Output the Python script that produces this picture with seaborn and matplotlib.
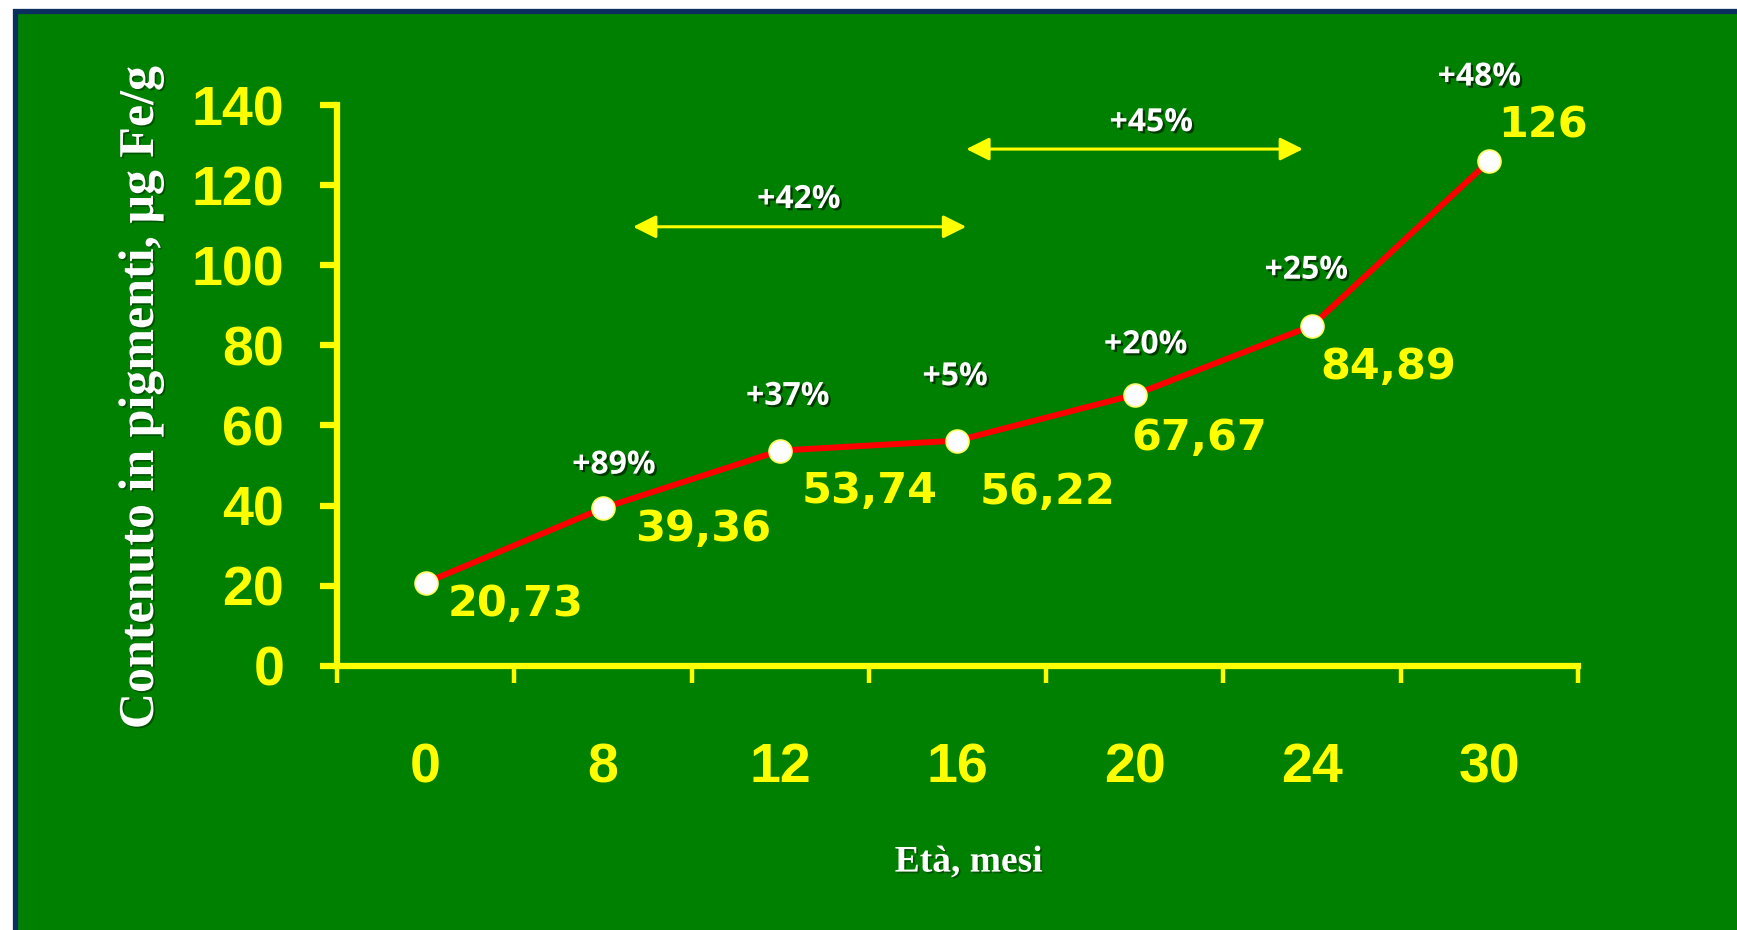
import numpy as np
import pandas as pd
import matplotlib
matplotlib.use("Agg")
import matplotlib.pyplot as plt
import matplotlib.patheffects as pe
from matplotlib.patches import Rectangle
from matplotlib import font_manager
import seaborn as sns

# ---------------- data ----------------
months = ["0", "8", "12", "16", "20", "24", "30"]
values = [20.73, 39.36, 53.74, 56.22, 67.67, 84.89, 126]
value_labels = ["20,73", "39,36", "53,74", "56,22", "67,67", "84,89", "126"]
pct_labels = ["", "+89%", "+37%", "+5%", "+20%", "+25%", "+48%"]
y_ticks = [0, 20, 40, 60, 80, 100, 120, 140]
span_labels = ["+42%", "+45%"]

# ---------------- layout / style (not data) ----------------
# offsets (points) of the value labels relative to their point (left aligned)
val_off = [(16, -15), (23, -15), (15.6, -29), (16, -37), (-2.4, -31), (6.4, -29.5), (6.2, 25.7)]
# offsets (points) of percentage labels (centered)
pct_off = [(0, 0), (8, 31), (5.6, 39), (-1.6, 46), (8, 36), (-4, 40), (-7, 60.5)]
# span arrows in data coordinates: (x_start, x_end, y), label (x, y)
span_arrows = [(1.17, 3.05, 109.6), (3.05, 4.95, 129.0)]
span_text_pos = [(2.106, 116.4), (4.094, 135.6)]

GREEN = "#008000"
NAVY = "#0B3060"
YELLOW = "#FFFF00"
RED = "#FF0000"

sns.set_style("ticks")
names = {f.name for f in font_manager.fontManager.ttflist}
if "Liberation Sans Narrow" in names:
    tick_family, tick_size = "Liberation Sans Narrow", 46
else:
    tick_family, tick_size = "Liberation Sans", 40
plt.rcParams["font.family"] = ["DejaVu Sans"]

df = pd.DataFrame({"pos": np.arange(len(months)), "val": values})

W, H = 1737, 930
fig = plt.figure(figsize=(W / 100, H / 100), dpi=100)
fig.patch.set_facecolor("white")
fig.patches.append(Rectangle((14.5 / W, -0.05), 1.2, (1 - 11 / H) + 0.05,
                             transform=fig.transFigure, facecolor=GREEN,
                             edgecolor=NAVY, linewidth=3.8, zorder=-10))

ax = fig.add_axes([337 / W, (H - 665.8) / H, 1240.75 / W, 560.8 / H])
ax.set_facecolor("none")

sns.lineplot(data=df, x="pos", y="val", ax=ax, color=RED, linewidth=4.3,
             marker="o", markersize=16.5, markerfacecolor="white",
             markeredgecolor="#FFFF66", markeredgewidth=1.2, zorder=5,
             clip_on=False)

ax.set_xlim(-0.5, len(months) - 0.5)
ax.set_ylim(0, 140)

sns.despine(ax=ax)
for side in ["left", "bottom"]:
    ax.spines[side].set_color(YELLOW)
    ax.spines[side].set_linewidth(4.5)
    ax.spines[side].set_capstyle("projecting")

ax.set_xticks(df["pos"], months)
ax.set_xticks(np.arange(len(months) + 1) - 0.5, minor=True)
ax.tick_params(axis="x", which="major", length=0, pad=55, labelcolor=YELLOW)
ax.tick_params(axis="x", which="minor", length=12, width=3.2, color=YELLOW,
               direction="out")
ax.set_yticks(y_ticks)
ax.tick_params(axis="y", which="major", length=12, width=4.5, color=YELLOW,
               pad=26, labelcolor=YELLOW)
for lab in ax.get_xticklabels() + ax.get_yticklabels():
    lab.set_fontfamily(tick_family)
    lab.set_fontweight("bold")
    lab.set_fontsize(tick_size)

shadow = [pe.withSimplePatchShadow(offset=(1.6, -1.6), shadow_rgbFace="black", alpha=0.55)]
soft_shadow = [pe.withSimplePatchShadow(offset=(1.2, -1.2), shadow_rgbFace="black", alpha=0.35)]

ax.set_xlabel("Età, mesi", family="Liberation Serif", fontweight="bold",
              fontsize=27, color="white", va="center", ha="center")
ax.xaxis.set_label_coords(0.509, -0.35)
ax.set_ylabel("Contenuto in pigmenti, μg Fe/g", family="Liberation Serif",
              fontweight="bold", fontsize=36, color="white", va="center", ha="center")
ax.yaxis.set_label_coords(-0.158, 0.479)
ax.xaxis.label.set_path_effects(soft_shadow)
ax.yaxis.label.set_path_effects(soft_shadow)

# value labels
for i, (txt, off) in enumerate(zip(value_labels, val_off)):
    ax.annotate(txt, xy=(df["pos"][i], df["val"][i]), xytext=off,
                textcoords="offset points", ha="left", va="center",
                fontsize=31, fontweight="bold", color=YELLOW,
                family="DejaVu Sans", zorder=6)

# percent labels
for i, (txt, off) in enumerate(zip(pct_labels, pct_off)):
    if not txt:
        continue
    ax.annotate(txt, xy=(df["pos"][i], df["val"][i]), xytext=off,
                textcoords="offset points", ha="center", va="center",
                fontsize=23, fontweight="bold", color="white",
                family="Open Sans", path_effects=shadow, zorder=6)

# span arrows
for (x0, x1, yv), txt, (tx, ty) in zip(span_arrows, span_labels, span_text_pos):
    ax.annotate("", xy=(x1, yv), xytext=(x0, yv),
                arrowprops=dict(arrowstyle="<|-|>,head_length=0.7,head_width=0.35",
                                color=YELLOW, lw=2.2, shrinkA=0, shrinkB=0,
                                mutation_scale=20))
    ax.text(tx, ty, txt, ha="center", va="center", fontsize=23,
            fontweight="bold", color="white", family="Open Sans",
            path_effects=shadow)

fig.savefig("out.png", dpi=100, facecolor=fig.get_facecolor())
